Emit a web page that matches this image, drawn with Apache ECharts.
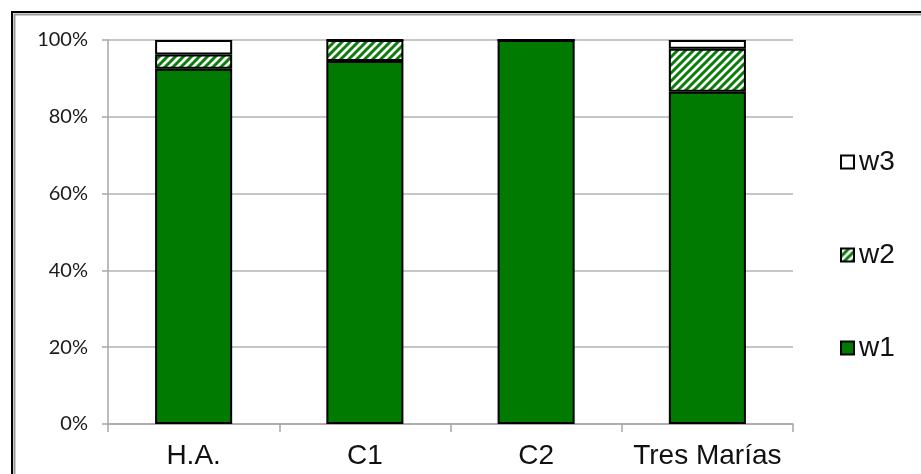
<!DOCTYPE html>
<html>
<head>
<meta charset="utf-8">
<script src="https://cdn.jsdelivr.net/npm/echarts@6/dist/echarts.min.js"></script>
<style>html,body{margin:0;padding:0;background:#fff;}#c{width:921px;height:474px;}</style>
</head>
<body>
<div id="c"></div>
<script>
var categories = ['H.A.', 'C1', 'C2', 'Tres Marías'];
var w1 = [92.5, 94.5, 100, 86.5];
var w2 = [3.7, 5.5, 0, 11.2];
var w3 = [3.8, 0, 0, 2.3];
var yTicks = [0, 20, 40, 60, 80, 100];

function hatch() {
  var c = document.createElement('canvas');
  c.width = 8; c.height = 8;
  var g = c.getContext('2d');
  g.fillStyle = '#fff'; g.fillRect(0, 0, 8, 8);
  g.strokeStyle = '#0a7d0a'; g.lineWidth = 3;
  g.beginPath();
  g.moveTo(-2, 10); g.lineTo(10, -2);
  g.moveTo(-2, 2); g.lineTo(2, -2);
  g.moveTo(6, 10); g.lineTo(10, 6);
  g.stroke();
  return c;
}
var hatchPattern = { image: hatch(), repeat: 'repeat' };

var chart = echarts.init(document.getElementById('c'), null, { renderer: 'canvas' });
var border = { borderColor: '#000', borderWidth: 2 };
chart.setOption({
  animation: false,
  backgroundColor: '#fff',
  grid: { left: 108, right: 128, top: 40, bottom: 50 },
  legend: {
    orient: 'vertical', left: 835, top: 143, icon: 'rect',
    itemWidth: 13, itemHeight: 13, itemGap: 65,
    data: ['w3', 'w2', 'w1'],
    textStyle: { fontFamily: 'Liberation Sans', fontSize: 28, color: '#111' },
    selectedMode: false
  },
  xAxis: {
    type: 'category', data: categories,
    axisLine: { lineStyle: { color: '#a6a6a6', width: 1.5 } },
    axisTick: { show: true, length: 8, lineStyle: { color: '#a6a6a6', width: 1.5 } },
    axisLabel: { interval: 0, fontFamily: 'Liberation Sans', fontSize: 28, color: '#111', margin: 18 }
  },
  yAxis: {
    type: 'value', min: yTicks[0], max: yTicks[yTicks.length - 1], interval: 20,
    axisLine: { show: true, lineStyle: { color: '#a6a6a6', width: 1.5 } },
    axisTick: { show: true, length: 6, lineStyle: { color: '#a6a6a6', width: 1.5 } },
    splitLine: { lineStyle: { color: '#b3b3b3', width: 1.5 } },
    axisLabel: { fontFamily: 'Lato', fontSize: 20, color: '#1a1a1a', margin: 20, formatter: '{value}%' }
  },
  graphic: [
    { type: 'polyline', silent: true, shape: { points: [[12, 474], [12, 12], [921, 12]] }, style: { stroke: '#000', lineWidth: 2, fill: null } },
    { type: 'polyline', silent: true, shape: { points: [[14.5, 474], [14.5, 14.5], [921, 14.5]] }, style: { stroke: '#9a9a9a', lineWidth: 2, fill: null } }
  ],
  series: [
    { name: 'w1', type: 'bar', stack: 's', barWidth: '45%', data: w1, itemStyle: Object.assign({ color: '#007a00' }, border) },
    { name: 'w2', type: 'bar', stack: 's', data: w2, itemStyle: Object.assign({ color: hatchPattern }, border) },
    { name: 'w3', type: 'bar', stack: 's', data: w3, itemStyle: Object.assign({ color: '#ffffff' }, border) }
  ]
});
</script>
</body>
</html>
